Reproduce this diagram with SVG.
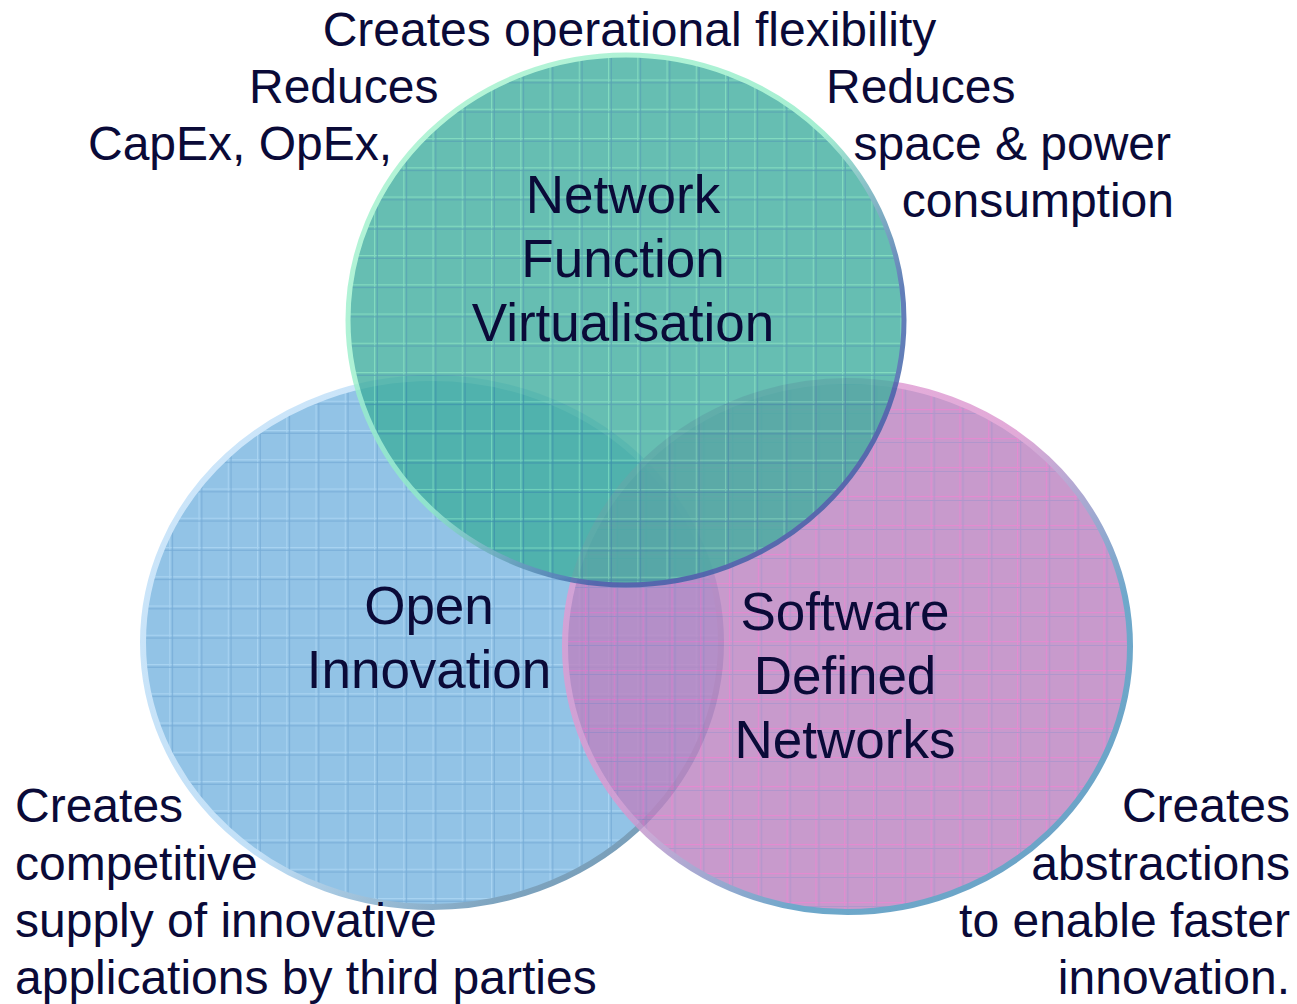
<svg xmlns="http://www.w3.org/2000/svg" width="1297" height="1004" viewBox="0 0 1297 1004">
<style>
text{font-family:"Liberation Sans",Arial,sans-serif;fill:#0a0a38}
.s{font-size:48px}
.b{font-size:53px;text-anchor:middle}
</style>
<defs>
<pattern id="gBlue" patternUnits="userSpaceOnUse" x="23" y="20.5" width="29.25" height="29.25">
<rect width="29.25" height="29.25" fill="#92c3e6"/>
<rect x="0" y="0" width="29.25" height="1.2" fill="#a8d3f1"/>
<rect x="0" y="0" width="1.2" height="29.25" fill="#a8d3f1"/>
<rect x="0" y="2.7" width="29.25" height="1" fill="#76acd8"/>
<rect x="2.7" y="0" width="1" height="29.25" fill="#76acd8"/>
</pattern>
<pattern id="gPink" patternUnits="userSpaceOnUse" x="9" y="3" width="28.8" height="29">
<rect width="28.8" height="29" fill="#bc84c2"/>
<rect x="0" y="0" width="28.8" height="1.2" fill="#de72c6"/>
<rect x="0" y="0" width="1.2" height="29" fill="#de72c6"/>
<rect x="0" y="4" width="28.8" height="1" fill="#a07fc2"/>
<rect x="3.2" y="0" width="1" height="29" fill="#a07fc2"/>
</pattern>
<pattern id="gTeal" patternUnits="userSpaceOnUse" x="23" y="21" width="29.25" height="29.25">
<rect width="29.25" height="29.25" fill="#40ae9f"/>
<rect x="0" y="0" width="29.25" height="1.2" fill="#64d2b0"/>
<rect x="0" y="0" width="1.2" height="29.25" fill="#64d2b0"/>
<rect x="0" y="2.7" width="29.25" height="1" fill="#2f8ca2"/>
<rect x="2.7" y="0" width="1" height="29.25" fill="#2f8ca2"/>
</pattern>
<linearGradient id="rBlue" x1="0" y1="0" x2="1" y2="1">
<stop offset="0" stop-color="#cfe7fa"/>
<stop offset="0.55" stop-color="#c2e0f7"/>
<stop offset="0.8" stop-color="#7ea4bf"/>
<stop offset="1" stop-color="#6f93ad"/>
</linearGradient>
<linearGradient id="rPink" x1="0" y1="0" x2="1" y2="1">
<stop offset="0" stop-color="#e59fd6"/>
<stop offset="0.45" stop-color="#dc98d0"/>
<stop offset="0.7" stop-color="#4f96c0"/>
<stop offset="1" stop-color="#4a8db8"/>
</linearGradient>
<linearGradient id="rTeal" x1="0" y1="0" x2="1" y2="1">
<stop offset="0" stop-color="#a8f4cf"/>
<stop offset="0.5" stop-color="#90ecc8"/>
<stop offset="0.72" stop-color="#3c5fa8"/>
<stop offset="1" stop-color="#3a5ca4"/>
</linearGradient>
</defs>

<g id="node-open-innovation">
<ellipse cx="432" cy="642.5" rx="289" ry="264.5" fill="url(#gBlue)" stroke="url(#rBlue)" stroke-width="6"/>
</g>
<g id="node-sdn" opacity="0.82">
<ellipse cx="847.5" cy="646.5" rx="282.5" ry="265.5" fill="url(#gPink)" stroke="url(#rPink)" stroke-width="6"/>
</g>
<g id="node-nfv" opacity="0.8">
<ellipse cx="626" cy="320" rx="278" ry="265" fill="url(#gTeal)" stroke="url(#rTeal)" stroke-width="5"/>
</g>
<g id="connectors"></g>

<g id="labels-nfv">
<text class="b" x="623" y="213">Network</text>
<text class="b" x="623" y="277">Function</text>
<text class="b" x="623" y="341">Virtualisation</text>
</g>
<g id="labels-open">
<text class="b" x="429" y="624">Open</text>
<text class="b" x="429" y="688">Innovation</text>
</g>
<g id="labels-sdn">
<text class="b" x="845" y="630">Software</text>
<text class="b" x="845" y="694">Defined</text>
<text class="b" x="845" y="758">Networks</text>
</g>

<g id="annotations">
<text class="s" x="629.5" y="46" text-anchor="middle">Creates operational flexibility</text>
<text class="s" x="249" y="103">Reduces</text>
<text class="s" x="88" y="160">CapEx, OpEx,</text>
<text class="s" x="826" y="103">Reduces</text>
<text class="s" x="1171" y="160" text-anchor="end">space &amp; power</text>
<text class="s" x="1174" y="217" text-anchor="end">consumption</text>
<text class="s" x="15" y="822">Creates</text>
<text class="s" x="15" y="880">competitive</text>
<text class="s" x="15" y="937">supply of innovative</text>
<text class="s" x="15" y="994">applications by third parties</text>
<text class="s" x="1290" y="822" text-anchor="end">Creates</text>
<text class="s" x="1290" y="880" text-anchor="end">abstractions</text>
<text class="s" x="1290" y="937" text-anchor="end">to enable faster</text>
<text class="s" x="1290" y="994" text-anchor="end">innovation.</text>
</g>
</svg>
